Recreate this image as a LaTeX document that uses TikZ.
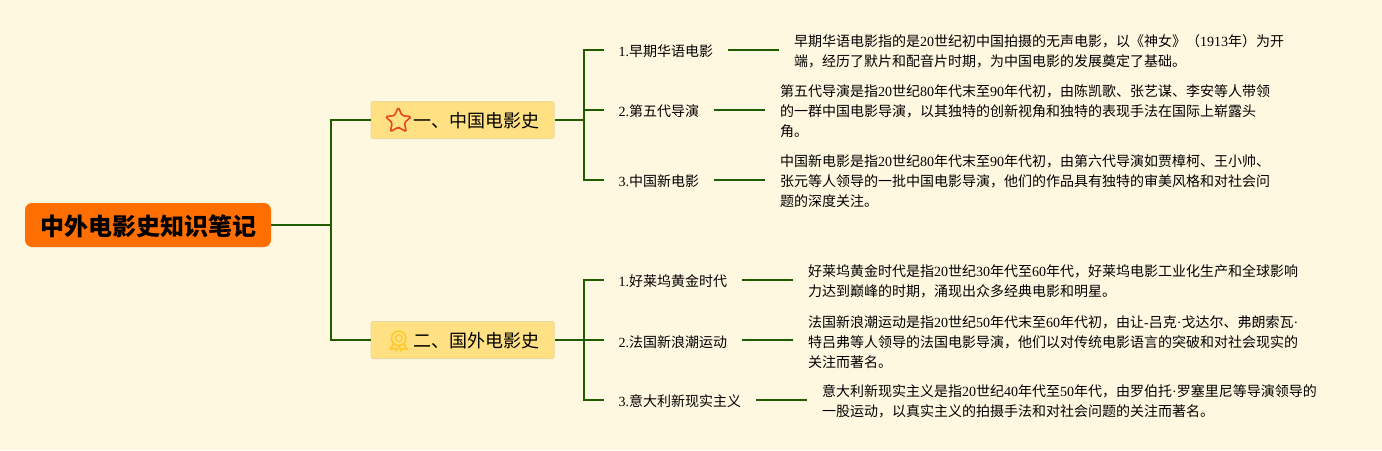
\documentclass[tikz,border=0pt]{standalone}
\usepackage{fontspec}
\setmainfont{Noto Sans CJK SC}
\newfontfamily\latinfont{Liberation Serif}
\newcommand{\lat}[1]{{\latinfont #1}}
\usetikzlibrary{shapes.geometric,calc}
\definecolor{paper}{HTML}{FFF8E1}
\definecolor{linkgreen}{HTML}{1F5C00}
\definecolor{rootorange}{HTML}{FF6F00}
\definecolor{branchyellow}{HTML}{FFE082}
\definecolor{branchedge}{HTML}{EAD9A0}
\definecolor{starred}{HTML}{E8471C}
\definecolor{medalgold}{HTML}{FFC928}
\tikzset{
    link/.style={draw=linkgreen,line width=2pt},
    rootbox/.style={fill=rootorange,rounded corners=7pt,minimum width=246pt,minimum height=44pt,inner sep=0pt,text height=23pt,text depth=2pt,font=\fontsize{24}{28}\selectfont\bfseries},
    branchbox/.style={fill=branchyellow,draw=branchedge,line width=1pt,rounded corners=1.5pt,minimum width=183pt,minimum height=37pt,inner sep=0pt,text height=18pt,text depth=2.4pt,font=\fontsize{18}{22}\selectfont},
    topicbox/.style={anchor=west,inner xsep=15pt,inner ysep=2pt,font=\fontsize{14}{20}\selectfont},
    notebox/.style={anchor=west,align=left,inner xsep=15pt,inner ysep=2pt,font=\fontsize{14}{20}\selectfont}
}
\begin{document}
\begin{tikzpicture}[x=1pt,y=-1pt]
        \fill[paper] (0,0) rectangle (1382,450);
        \useasboundingbox (0,0) rectangle (1382,450);
        \node[rootbox] (root) at (148,225) {\hspace*{1pt}中外电影史知识笔记};
        \node[branchbox] (cn) at (462.5,120) {\hspace*{28pt}一、中国电影史};
        \node[branchbox] (fr) at (462.5,340) {\hspace*{28pt}二、国外电影史};
        \node[star,star points=5,star point ratio=2.1,draw=starred,line width=1.6pt,rounded corners=1.5pt,minimum size=27pt,inner sep=0pt] (staricon) at (398.3,120.8) {};
        \coordinate (medalicon) at (398.7,338.3);
        \draw[medalgold,line width=1.6pt,line join=round] (medalicon) ++(-5,5) -- ++(-3.5,6) -- ++(4,-1) -- ++(2.5,2.5) -- ++(1.5,-5);
        \draw[medalgold,line width=1.6pt,line join=round] (medalicon) ++(5,5) -- ++(3.5,6) -- ++(-4,-1) -- ++(-2.5,2.5) -- ++(-1.5,-5);
        \fill[branchyellow] (medalicon) circle (7.5pt);
        \draw[medalgold,line width=1.6pt] (medalicon) circle (7.2pt);
        \draw[medalgold,line width=1.3pt] (medalicon) circle (3.4pt);

        \coordinate (trunk) at (331,225);
        \coordinate (cnfork) at (584,120);
        \coordinate (frfork) at (584,340);

        \node[topicbox] (cna) at (603.5,51.5) {\lat{1.}早期华语电影};
        \node[topicbox] (cnb) at (603.5,111.5) {\lat{2.}第五代导演};
        \node[topicbox] (cnc) at (603.5,181.5) {\lat{3.}中国新电影};
        \node[topicbox] (fra) at (603.5,281.5) {\lat{1.}好莱坞黄金时代};
        \node[topicbox] (frb) at (603.5,342) {\lat{2.}法国新浪潮运动};
        \node[topicbox] (frc) at (603.5,401.5) {\lat{3.}意大利新现实主义};

        \node[notebox] (cnatext) at (779,51.5) {早期华语电影指的是\lat{20}世纪初中国拍摄的无声电影，以《神女》（\lat{1913}年）为开\\端，经历了默片和配音片时期，为中国电影的发展奠定了基础。};
        \node[notebox] (cnbtext) at (765,111.5) {第五代导演是指\lat{20}世纪\lat{80}年代末至\lat{90}年代初，由陈凯歌、张艺谋、李安等人带领\\的一群中国电影导演，以其独特的创新视角和独特的表现手法在国际上崭露头\\角。};
        \node[notebox] (cnctext) at (765,181.5) {中国新电影是指\lat{20}世纪\lat{80}年代末至\lat{90}年代初，由第六代导演如贾樟柯、王小帅、\\张元等人领导的一批中国电影导演，他们的作品具有独特的审美风格和对社会问\\题的深度关注。};
        \node[notebox] (fratext) at (793,281.5) {好莱坞黄金时代是指\lat{20}世纪\lat{30}年代至\lat{60}年代，好莱坞电影工业化生产和全球影响\\力达到巅峰的时期，涌现出众多经典电影和明星。};
        \node[notebox] (frbtext) at (793,342) {法国新浪潮运动是指\lat{20}世纪\lat{50}年代末至\lat{60}年代初，由让\lat{-}吕克\lat{·}戈达尔、弗朗索瓦\lat{·}\\特吕弗等人领导的法国电影导演，他们以对传统电影语言的突破和对社会现实的\\关注而著名。};
        \node[notebox] (frctext) at (807,401.5) {意大利新现实主义是指\lat{20}世纪\lat{40}年代至\lat{50}年代，由罗伯托\lat{·}罗塞里尼等导演领导的\\一股运动，以真实主义的拍摄手法和对社会问题的关注而著名。};

        \draw[link] (root.east) -- (trunk) |- (cn.west);
        \draw[link] (trunk) |- (fr.west);
        \draw[link] (cn.east) -- (cnfork) |- ([yshift=2pt]cna.west);
        \draw[link] (cnfork) |- ([yshift=2pt]cnb.west);
        \draw[link] (cnfork) |- ([yshift=2pt]cnc.west);
        \draw[link] (fr.east) -- (frfork) |- ([yshift=2pt]fra.west);
        \draw[link] (frfork) -- ([yshift=2pt]frb.west);
        \draw[link] (frfork) |- ([yshift=2pt]frc.west);
        \draw[link] ([yshift=2pt]cna.east) -- ([yshift=2pt]cnatext.west);
        \draw[link] ([yshift=2pt]cnb.east) -- ([yshift=2pt]cnbtext.west);
        \draw[link] ([yshift=2pt]cnc.east) -- ([yshift=2pt]cnctext.west);
        \draw[link] ([yshift=2pt]fra.east) -- ([yshift=2pt]fratext.west);
        \draw[link] ([yshift=2pt]frb.east) -- ([yshift=2pt]frbtext.west);
        \draw[link] ([yshift=2pt]frc.east) -- ([yshift=2pt]frctext.west);
    \end{tikzpicture}
\end{document}
